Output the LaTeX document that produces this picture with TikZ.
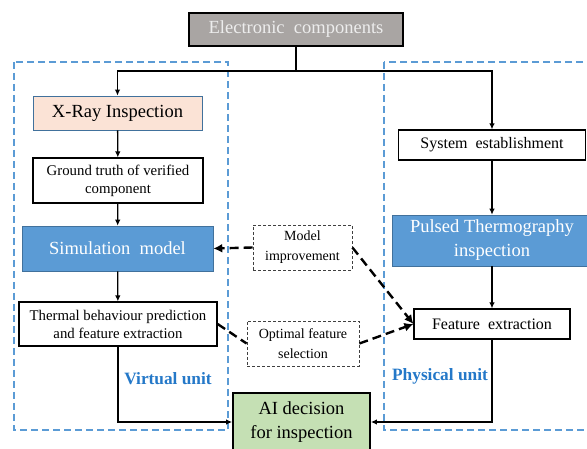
\documentclass[tikz,border=0pt]{standalone}
\usepackage{fontspec}
\setmainfont{Liberation Serif}
\usetikzlibrary{arrows.meta}
\usetikzlibrary{positioning}
\definecolor{ecgray}{HTML}{A9A5A3}
\definecolor{xpeach}{HTML}{FBE3D6}
\definecolor{simblue}{HTML}{5B9BD5}
\definecolor{edgeblue}{HTML}{41719C}
\definecolor{aigreen}{HTML}{C5E0B4}
\definecolor{unitblue}{HTML}{2478C8}
\newcommand{\unitlabel}[3]{\node(#1)[unit] at (#2){#3}}

\begin{document}
\begin{tikzpicture}[
        x=1pt, y=-1pt,
        every node/.style={font=\fontsize{16}{18}\selectfont, align=center, inner sep=0pt},
        item/.style={rectangle, draw=black, line width=1.2pt, fill=white},
        bigtext/.style={font=\fontsize{18.5}{24}\selectfont},
        smalltext/.style={font=\fontsize{14.8}{18}\selectfont},
        blueitem/.style={rectangle, fill=simblue, draw=edgeblue, line width=0.6pt,
                         text=white, bigtext},
        helper/.style={rectangle, draw=black!75, dashed, line width=0.8pt,
                       dash pattern=on 3pt off 2pt, font=\fontsize{14}{20}\selectfont},
        unit/.style={font=\fontsize{17.3}{19}\selectfont\bfseries, text=unitblue},
        region/.style={draw=simblue, line width=1.5pt, dash pattern=on 7pt off 4pt},
        flow/.style={-{Latex[length=6pt,width=5.5pt]}, line width=1.3pt},
        feedback/.style={line width=2.4pt, dash pattern=on 9pt off 5pt},
        fbarrow/.style={feedback, -{Latex[length=9pt,width=9pt]}}
      ]
      \useasboundingbox (0,0) rectangle (587,449);
      \clip (0,0) rectangle (587,449);

      % dashed unit frames
      \draw[region] (14,62) rectangle (228,430);
      \draw[region] (384,62) rectangle (605,430);

      \node(ec)[item, fill=ecgray, line width=1.8pt, text=white!93!black, bigtext,
                minimum width=214, minimum height=33] at (296,29.5) {Electronic\ \ components};

      % virtual unit
      \node(xray)[rectangle, fill=xpeach, draw=edgeblue, line width=0.8pt, bigtext,
                  minimum width=169, minimum height=34] at (117.5,113) {X-Ray Inspection};
      \node(truth)[item, smalltext, minimum width=170, minimum height=45]
            at (118,180.5) {Ground truth of verified\\component};
      \node(sim)[blueitem, minimum width=191, minimum height=45]
            at (117.5,248.5) {Simulation\ \ model};
      \node(thermal)[item, smalltext, minimum width=198, minimum height=44]
            at (118,324) {Thermal behaviour prediction\\and feature extraction};
      \unitlabel{vunit}{168,379}{Virtual unit};

      % physical unit
      \node(system)[item, minimum width=187, minimum height=30]
            at (492,145) {System\ \ establishment};
      \node(pulsed)[blueitem, minimum width=200, minimum height=51]
            at (492,240.5) {Pulsed Thermography\\inspection};
      \node(feature)[item, minimum width=156, minimum height=30]
            at (492,324) {Feature\ \ extraction};
      \unitlabel{punit}{440,376}{Physical unit};

      % helpers in between
      \node(improve)[helper, minimum width=99, minimum height=45]
            at (302.5,247.5) {Model\\improvement};
      \node(select)[helper, minimum width=112, minimum height=45]
            at (303,343.5) {Optimal feature\\selection};

      \node(ai)[item, fill=aigreen, line width=1.8pt, bigtext,
                minimum width=137, minimum height=58] at (301.5,422) {AI decision\\for inspection};

      \coordinate (split) at (296,71);

      \draw[line width=1.3pt] (ec.south) -- (split);
      \draw[flow] (split) -| (xray.north);
      \draw[flow] (split) -| (system.north);
      \draw[flow] (xray) -- (truth);
      \draw[flow] (truth) -- (sim);
      \draw[flow] (sim) -- (thermal);
      \draw[flow] (thermal.south) |- (ai.west);
      \draw[flow] (system) -- (pulsed);
      \draw[flow] (pulsed) -- (feature);
      \draw[flow] (feature.south) |- (ai.east);

      \draw[fbarrow] (improve.west) -- (sim.east);
      \draw[fbarrow] (improve.east) -- (feature.west);
      \draw[feedback] (thermal.east) -- (select.west);
      \draw[fbarrow] (select.east) -- (feature.west);
    \end{tikzpicture}
\end{document}
